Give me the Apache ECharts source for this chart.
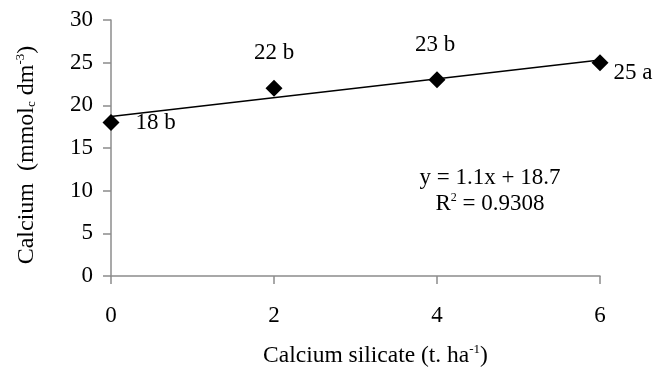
<!DOCTYPE html>
<html>
<head>
<meta charset="utf-8">
<script src="https://cdn.jsdelivr.net/npm/echarts@6/dist/echarts.min.js"></script>
<style>
  html, body { margin: 0; padding: 0; background: #fff; }
  #chart { width: 668px; height: 373px; }
</style>
</head>
<body>
<div id="chart"></div>
<script>
// data
const silicate = [0, 2, 4, 6];
const calcium = [18, 22, 23, 25];
const letters = ['b', 'b', 'b', 'a'];
const trendX = [0, 6];
const trendY = [18.7, 25.3];
const equation = 'y = 1.1x + 18.7';
const rSquared = '0.9308';

const font = 'Liberation Serif';

// label placement per point
const labelPos = [
    {position: 'right', distance: 16, offset: [0, 1]},
    {position: 'top', distance: 15, offset: [0, 0]},
    {position: 'top', distance: 15, offset: [-2, 0]},
    {position: 'right', distance: 5, offset: [0, 10]}
];

const chart = echarts.init(document.getElementById('chart'));

const option = {
    backgroundColor: '#fff',
    animation: false,
    grid: {
        left: 111,
        right: 68,
        top: 20,
        bottom: 97,
        outerBoundsMode: 'none'
    },
    xAxis: {
        type: 'value',
        min: 0,
        max: 6,
        interval: 2,
        name: 'Calcium silicate (t. ha{sup|-1})',
        nameLocation: 'middle',
        nameGap: 67,
        nameTextStyle: {
            fontFamily: font,
            fontSize: 23.5,
            color: '#000',
            padding: [0, 0, 0, 40],
            rich: {
                sup: {fontFamily: font, fontSize: 13, color: '#000', padding: [0, 0, 12, 0]}
            }
        },
        axisLine: {lineStyle: {color: '#8c8c8c', width: 1.5}},
        axisTick: {show: true, length: 8, lineStyle: {color: '#8c8c8c', width: 1.5}},
        splitLine: {show: false},
        axisLabel: {fontFamily: font, fontSize: 23, color: '#000', margin: 28}
    },
    yAxis: {
        type: 'value',
        min: 0,
        max: 30,
        interval: 5,
        name: 'Calcium  (mmol{sub|c} dm{sup|-3})',
        nameLocation: 'middle',
        nameGap: 72,
        nameTextStyle: {
            fontFamily: font,
            fontSize: 24,
            color: '#000',
            padding: [0, 14, 0, 0],
            rich: {
                sup: {fontFamily: font, fontSize: 13, color: '#000', padding: [0, 0, 12, 0]},
                sub: {fontFamily: font, fontSize: 13, color: '#000', padding: [10, 0, 0, 0]}
            }
        },
        axisLine: {show: true, lineStyle: {color: '#8c8c8c', width: 1.5}},
        axisTick: {show: true, length: 8, lineStyle: {color: '#8c8c8c', width: 1.5}},
        splitLine: {show: false},
        axisLabel: {fontFamily: font, fontSize: 23, color: '#000', margin: 18}
    },
    graphic: [{
        type: 'text',
        x: 490,
        y: 165,
        style: {
            text: equation + '\nR{sup|2} = ' + rSquared,
            align: 'center',
            fontFamily: font,
            fontSize: 23,
            lineHeight: 26,
            fill: '#000',
            rich: {
                sup: {fontFamily: font, fontSize: 12, fill: '#000', padding: [0, 0, 12, 0]}
            }
        }
    }],
    series: [{
        type: 'line',
        data: trendX.map((x, i) => [x, trendY[i]]),
        showSymbol: false,
        silent: true,
        lineStyle: {color: '#000', width: 1.5},
        z: 1
    }, {
        type: 'scatter',
        symbol: 'diamond',
        symbolSize: 17,
        itemStyle: {color: '#000', opacity: 1},
        z: 2,
        data: silicate.map((x, i) => ({
            value: [x, calcium[i]],
            label: {
                show: true,
                formatter: calcium[i] + ' ' + letters[i],
                fontFamily: font,
                fontSize: 23,
                color: '#000',
                position: labelPos[i].position,
                distance: labelPos[i].distance,
                offset: labelPos[i].offset
            }
        }))
    }]
};

chart.setOption(option);
</script>
</body>
</html>
